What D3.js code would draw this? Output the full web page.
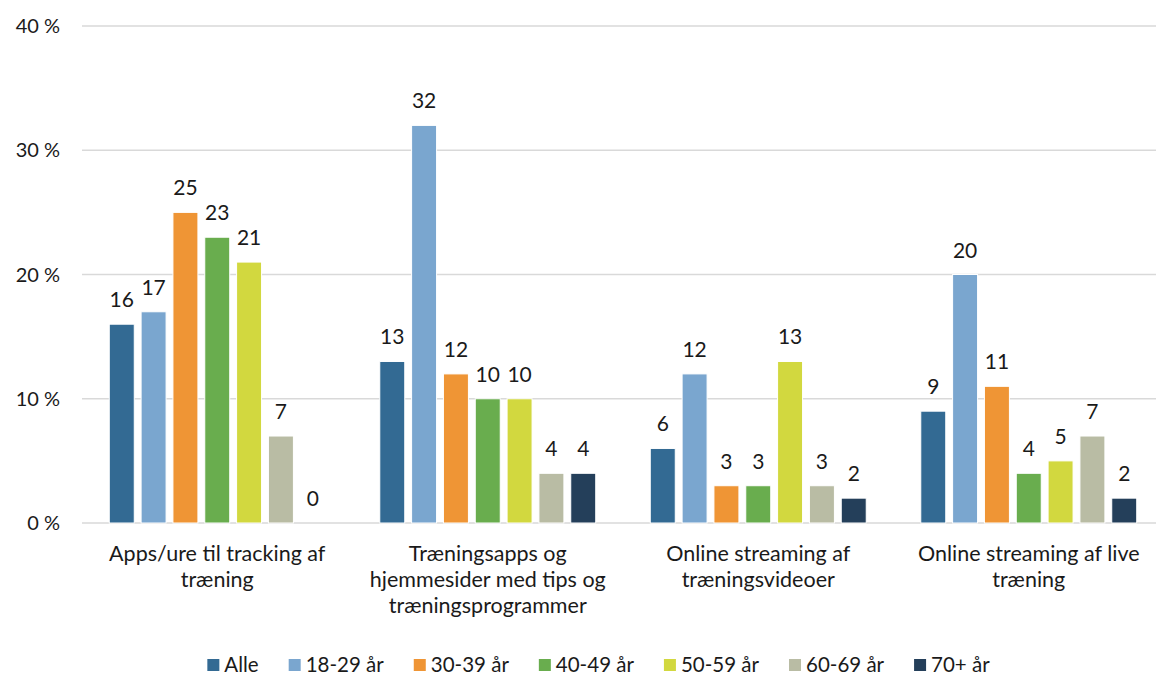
<!DOCTYPE html>
<html>
<head>
<meta charset="utf-8">
<script src="https://cdn.jsdelivr.net/npm/d3@7"></script>
<style>
  body { margin: 0; background: #fff; }
  svg { font-family: Lato, "Open Sans", sans-serif; }
</style>
</head>
<body>
<svg id="chart" width="1156" height="675"></svg>
<script>
// data
const categories = [
  'Apps/ure til tracking af træning',
  'Træningsapps og hjemmesider med tips og træningsprogrammer',
  'Online streaming af træningsvideoer',
  'Online streaming af live træning'
];
const categoryLines = [
  ['Apps/ure til tracking af', 'træning'],
  ['Træningsapps og', 'hjemmesider med tips og', 'træningsprogrammer'],
  ['Online streaming af', 'træningsvideoer'],
  ['Online streaming af live', 'træning']
];
const seriesNames = ['Alle', '18-29 år', '30-39 år', '40-49 år', '50-59 år', '60-69 år', '70+ år'];
const seriesColors = ['#336a93', '#7aa6cf', '#ef9535', '#69ad4e', '#d2d83f', '#b9bca4', '#243f5a'];
const values = [
  [16, 13, 6, 9],   // Alle
  [17, 32, 12, 20], // 18-29
  [25, 12, 3, 11],  // 30-39
  [23, 10, 3, 4],   // 40-49
  [21, 10, 13, 5],  // 50-59
  [7, 4, 3, 7],     // 60-69
  [0, 4, 2, 2]      // 70+
];
const yTicks = [0, 10, 20, 30, 40];

const svg = d3.select('#chart');
// the plot area runs a bit past the right edge of the picture
const plotLeft = 82, plotRight = 1164, plotTop = 26, plotBottom = 523;

const x0 = d3.scaleBand().domain(categories).range([plotLeft, plotRight]).padding(0);
const half = 111.4;
const x1 = d3.scaleBand().domain(seriesNames)
  .range([x0.bandwidth() / 2 - half, x0.bandwidth() / 2 + half])
  .paddingInner(0.215).paddingOuter(0.1075);
const y = d3.scaleLinear().domain([0, 40]).range([plotBottom, plotTop]);

// gridlines
svg.append('g').selectAll('line').data(yTicks).enter().append('line')
  .attr('x1', plotLeft).attr('x2', plotRight)
  .attr('y1', d => y(d)).attr('y2', d => y(d))
  .attr('stroke', '#d9d9d9').attr('stroke-width', 1.5);

// y labels
svg.append('g').selectAll('text').data(yTicks).enter().append('text')
  .attr('x', 60).attr('y', d => y(d)).attr('dy', '0.35em')
  .attr('text-anchor', 'end').attr('font-size', 20).attr('fill', '#1a1a1a')
  .text(d => d + ' %');

// bars
const groups = svg.append('g').selectAll('g').data(seriesNames).enter().append('g')
  .attr('fill', (d, i) => seriesColors[i]);

groups.each(function(s, si) {
  const g = d3.select(this);
  const rows = categories.map((c, ci) => ({ c: c, v: values[si][ci] }));
  g.selectAll('rect').data(rows.filter(r => r.v > 0)).enter().append('rect')
    .attr('x', r => x0(r.c) + x1(s))
    .attr('width', x1.bandwidth())
    .attr('y', r => y(r.v))
    .attr('height', r => y(0) - y(r.v))
    .attr('stroke', '#fff').attr('stroke-width', 1);
  g.selectAll('text').data(rows).enter().append('text')
    .attr('x', r => x0(r.c) + x1(s) + x1.bandwidth() / 2)
    .attr('y', r => y(r.v) - 17)
    .attr('text-anchor', 'middle').attr('font-size', 21).attr('fill', '#1a1a1a')
    .text(r => r.v);
});

// category labels
const catG = svg.append('g');
categories.forEach((c, ci) => {
  const cx = x0(c) + x0.bandwidth() / 2;
  const t = catG.append('text')
    .attr('x', cx).attr('y', 561)
    .attr('text-anchor', 'middle').attr('font-size', 21.5).attr('fill', '#1a1a1a');
  categoryLines[ci].forEach((line, li) => {
    t.append('tspan').attr('x', cx)
      .attr('dy', li === 0 ? 0 : 26).text(line);
  });
});

// legend
const legend = svg.append('g');
const gap = 30;
let lx = 0;
seriesNames.forEach((s, i) => {
  const item = legend.append('g').attr('transform', `translate(${lx},0)`);
  item.append('rect').attr('x', 0).attr('y', -6).attr('width', 12).attr('height', 12)
    .attr('fill', seriesColors[i]);
  const t = item.append('text').attr('x', 17).attr('y', 0).attr('dy', '0.35em')
    .attr('font-size', 20.5).attr('fill', '#1a1a1a').text(s);
  lx += 17 + t.node().getComputedTextLength() + gap;
});
const lw = lx - gap;
legend.attr('transform', `translate(${598.5 - lw / 2},665)`);
</script>
</body>
</html>
